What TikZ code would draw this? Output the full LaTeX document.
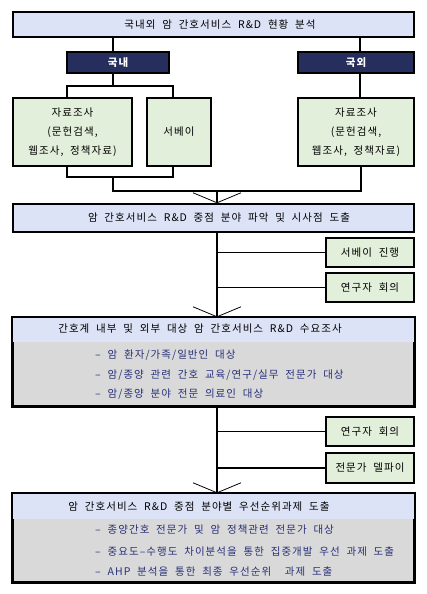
\documentclass[tikz,border=0pt]{standalone}
\usepackage{fontspec}
\setmainfont{Noto Sans CJK KR}[LetterSpace=10, WordSpace=2]
\usetikzlibrary{arrows.meta}
\definecolor{hdrblue}{HTML}{DDE3F7}
\definecolor{boxgreen}{HTML}{E2EFDA}
\definecolor{navy}{HTML}{262E5E}
\definecolor{lgray}{HTML}{D9D9D9}
\definecolor{listblue}{HTML}{28307A}
\tikzset{
  bx/.style={draw=black, line width=1.6pt, rectangle, inner sep=0pt},
  hdr/.style={bx, fill=hdrblue},
  navybox/.style={bx, fill=navy, text=white, font=\fontsize{10.5}{12}\selectfont\bfseries},
  grn/.style={bx, fill=boxgreen, align=center, font=\fontsize{10.5}{19}\selectfont},
  txt/.style={inner sep=0pt, font=\fontsize{10.5}{12}\selectfont},
  lst/.style={inner sep=0pt, anchor=west, text=listblue, font=\fontsize{10.5}{12}\selectfont},
  ln/.style={line width=1.6pt},
  arr/.style={line width=1.6pt, -{Straight Barb[length=10pt, width=48pt, line width=0.8pt]}}
}
\begin{document}
\begin{tikzpicture}[x=1pt, y=-1pt]
\useasboundingbox (0,0) rectangle (426,594);
% top
\node[hdr, minimum width=401pt, minimum height=25pt] (top) at (213.5,24.5) {};
\node[txt] (toptxt) at (220,24.5) {국내외 암 간호서비스 R\&D 현황 분석};
\node[navybox, minimum width=102pt, minimum height=21pt] (dom) at (118,62.5) {국내};
\node[navybox, minimum width=116pt, minimum height=21pt] (for) at (356,62.5) {국외};
\node[grn, minimum width=119pt, minimum height=68pt] (dL) at (72.5,132) {자료조사\\(문헌검색,\\웹조사, 정책자료)};
\node[grn, minimum width=64pt, minimum height=68pt] (sv) at (179,132) {서베이};
\node[grn, minimum width=116pt, minimum height=68pt] (dR) at (356,132) {자료조사\\(문헌검색,\\웹조사, 정책자료)};
% connectors top part
\coordinate (j1) at (113,86);
\coordinate (j2) at (113,177);
\coordinate (j3) at (217,191);
\draw[ln] (top.south -| j1) -- (dom.north -| j1);
\draw[ln] (top.south -| 360,0) -- (for.north -| 360,0);
\draw[ln] (for.south -| 360,0) -- (dR.north -| 360,0);
\draw[ln] (dom.south -| j1) -- (j1);
\draw[ln] (dL.north -| 67,0) |- (j1) -| (sv.north -| 173,0);
\draw[ln] (dL.south -| 67,0) |- (j2) -| (sv.south -| 173,0);
\draw[ln] (j2) -- (113,191) -| (dR.south -| 361,0);
% box 2
\node[hdr, minimum width=401pt, minimum height=28pt] (b2) at (213.5,218) {};
\node[txt] (b2t) at (219,218) {암 간호서비스 R\&D 중점 분야 파악 및 시사점 도출};
\draw[arr] (j3) -- (b2.north -| j3);
% side boxes 1
\node[grn, minimum width=88pt, minimum height=29pt] (s1) at (370,252.5) {서베이 진행};
\node[grn, minimum width=88pt, minimum height=29pt] (s2) at (370,287.5) {연구자 회의};
% box 3
\node[bx, fill=lgray, minimum width=401pt, minimum height=88pt] (b3) at (213.5,362) {};
\fill[hdrblue] ([xshift=0.8pt,yshift=-0.8pt]b3.north west) rectangle ([xshift=-0.8pt]b3.east |- 0,342);
\node[txt] (b3t) at (200,329) {간호계 내부 및 외부 대상 암 간호서비스 R\&D 수요조사};
\node[lst] (b3a) at (95,355) {– 암 환자/가족/일반인 대상};
\node[lst] (b3b) at (95,375) {– 암/종양 관련 간호 교육/연구/실무 전문가 대상};
\node[lst] (b3c) at (95,394.5) {– 암/종양 분야 전문 의료인 대상};
\draw[arr] (b2.south -| j3) -- (b3.north -| j3);
\draw[ln] (j3 |- s1.west) -- (s1.west);
\draw[ln] (j3 |- s2.west) -- (s2.west);
% side boxes 2
\node[grn, minimum width=88pt, minimum height=29pt] (s3) at (370,431.5) {연구자 회의};
\node[grn, minimum width=88pt, minimum height=30pt] (s4) at (370,468) {전문가 델파이};
% box 4
\node[bx, fill=lgray, minimum width=401pt, minimum height=88pt] (b4) at (213.5,538) {};
\fill[hdrblue] ([xshift=0.8pt,yshift=-0.8pt]b4.north west) rectangle ([xshift=-0.8pt]b4.east |- 0,519);
\node[txt] (b4t) at (199,507) {암 간호서비스 R\&D 중점 분야별 우선순위과제 도출};
\node[lst] (b4a) at (95,530) {– 종양간호 전문가 및 암 정책관련 전문가 대상};
\node[lst] (b4b) at (95,551.5) {– 중요도–수행도 차이분석을 통한 집중개발 우선 과제 도출};
\node[lst] (b4c) at (95,572) {– AHP 분석을 통한 최종 우선순위 \ 과제 도출};
\draw[arr] (b3.south -| j3) -- (b4.north -| j3);
\draw[ln] (j3 |- s3.west) -- (s3.west);
\draw[ln] (j3 |- s4.west) -- (s4.west);
% redraw borders over header fills
\draw[line width=1.6pt] (b3.north west) rectangle (b3.south east);
\draw[line width=1.6pt] (b4.north west) rectangle (b4.south east);
\end{tikzpicture}
\end{document}
